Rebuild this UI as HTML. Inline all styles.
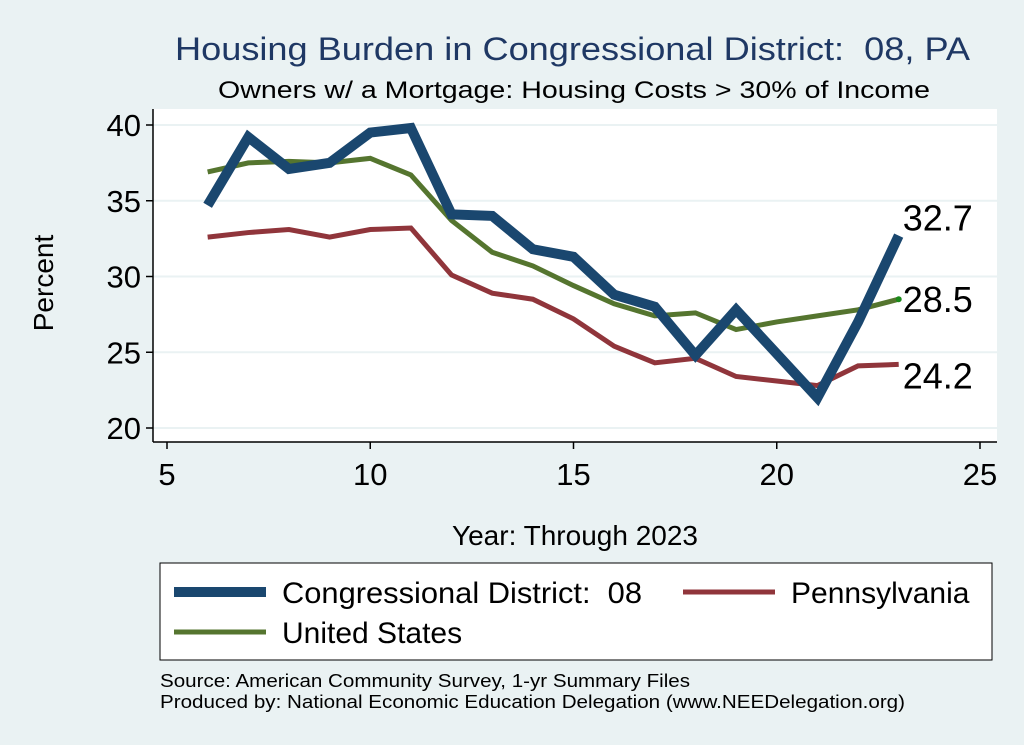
<!DOCTYPE html>
<html><head><style>
body{margin:0;background:#eaf2f3;}
svg{display:block;font-family:"Liberation Sans",Arial,sans-serif;}
</style></head><body>
<svg id="c" width="1024" height="745">
<rect x="0" y="0" width="1024" height="745" fill="#eaf2f3"/>
<text x="175" y="60" font-size="32" fill="#1f3864" textLength="795" lengthAdjust="spacingAndGlyphs">Housing Burden in Congressional District:&#160; 08, PA</text>
<text x="218" y="98" font-size="24" fill="#000" textLength="712" lengthAdjust="spacingAndGlyphs">Owners w/ a Mortgage: Housing Costs &gt; 30% of Income</text>
<rect x="153" y="109" width="844" height="333" fill="#fff"/>
<g id="grid"></g>
<g id="axes"></g>
<g id="series"></g>
<text x="53" y="283" font-size="28" text-anchor="middle" transform="rotate(-90 53 283)">Percent</text>
<text x="575" y="545" font-size="28" text-anchor="middle">Year: Through 2023</text>
<g>
<rect x="160" y="563" width="832" height="97" fill="#fff" stroke="#000" stroke-width="1"/>
<line x1="174" y1="592" x2="266" y2="592" stroke="#1a476f" stroke-width="10"/>
<text x="282" y="603" font-size="30" textLength="360" lengthAdjust="spacingAndGlyphs">Congressional District:&#160; 08</text>
<line x1="683" y1="592" x2="775" y2="592" stroke="#90353b" stroke-width="5"/>
<text x="791" y="603" font-size="30">Pennsylvania</text>
<line x1="174" y1="632" x2="266" y2="632" stroke="#55752f" stroke-width="5"/>
<text x="282" y="643" font-size="30">United States</text>
</g>
<text x="160" y="687" font-size="18" textLength="530" lengthAdjust="spacingAndGlyphs">Source: American Community Survey, 1-yr Summary Files</text>
<text x="160" y="708" font-size="18" textLength="745" lengthAdjust="spacingAndGlyphs">Produced by: National Economic Education Delegation (www.NEEDelegation.org)</text>
</svg>
<script>
const years=[6,7,8,9,10,11,12,13,14,15,16,17,18,19,20,21,22,23];
const district=[34.7,39.2,37.1,37.5,39.5,39.8,34.1,34.0,31.8,31.3,28.8,28.0,24.8,27.8,24.9,22.0,27.0,32.7];
const pennsylvania=[32.6,32.9,33.1,32.6,33.1,33.2,30.1,28.9,28.5,27.2,25.4,24.3,24.6,23.4,23.1,22.8,24.1,24.2];
const unitedStates=[36.9,37.5,37.6,37.5,37.8,36.7,33.7,31.6,30.7,29.4,28.2,27.4,27.6,26.5,27.0,27.4,27.8,28.5];
const xTicks=[5,10,15,20,25];
const yTicks=[20,25,30,35,40];
const NS="http://www.w3.org/2000/svg";
const X=v=>167+(v-5)*(980-167)/20;
const Y=v=>428-(v-20)*(428-125)/20;
function mk(t,a,p){const e=document.createElementNS(NS,t);for(const k in a)e.setAttribute(k,a[k]);p.appendChild(e);return e;}
const grid=document.getElementById('grid'),axes=document.getElementById('axes'),ser=document.getElementById('series');
yTicks.forEach(v=>{
 const g=mk('line',{x1:153,x2:997,y1:Y(v),y2:Y(v),stroke:'#eaf2f3','stroke-width':2},grid);
 
 
 const t=mk('line',{x1:146,x2:153,y1:Y(v),y2:Y(v),stroke:'#000','stroke-width':1.5},axes);
 
 
 const l=mk('text',{x:141,y:Y(v)+11,'font-size':31,'text-anchor':'end'},axes);l.textContent=v;
 
 
});
mk('line',{x1:153,x2:153,y1:109,y2:442,stroke:'#000','stroke-width':1.5},axes);
mk('line',{x1:153,x2:997,y1:442,y2:442,stroke:'#000','stroke-width':1.5},axes);
xTicks.forEach(v=>{
 const t=mk('line',{x1:X(v),x2:X(v),y1:442,y2:449,stroke:'#000','stroke-width':1.5},axes);
 
 
 const l=mk('text',{x:X(v),y:485,'font-size':31,'text-anchor':'middle'},axes);l.textContent=v;
 
 
});
function line(vals,color,w,name){
 const p=mk('polyline',{points:vals.map((v,i)=>X(years[i])+','+Y(v)).join(' '),fill:'none',stroke:color,'stroke-width':w,'stroke-linejoin':'miter'},ser);
 
 
}
line(pennsylvania,'#90353b',5,'pennsylvania-line');
line(unitedStates,'#55752f',5,'us-line');
line(district,'#1a476f',10,'district-line');
mk('circle',{cx:X(23),cy:Y(unitedStates[17]),r:3,fill:'#1a8a1a'},ser);
const n=years.length-1;
[[district,-5,'label-district'],[unitedStates,13,'label-us'],[pennsylvania,24,'label-pennsylvania']].forEach(([s,dy,nm])=>{
 const t=mk('text',{x:X(years[n])+4,y:Y(s[n])+dy,'font-size':36},ser);t.textContent=s[n].toFixed(1);
 
 
});
</script>
</body></html>
